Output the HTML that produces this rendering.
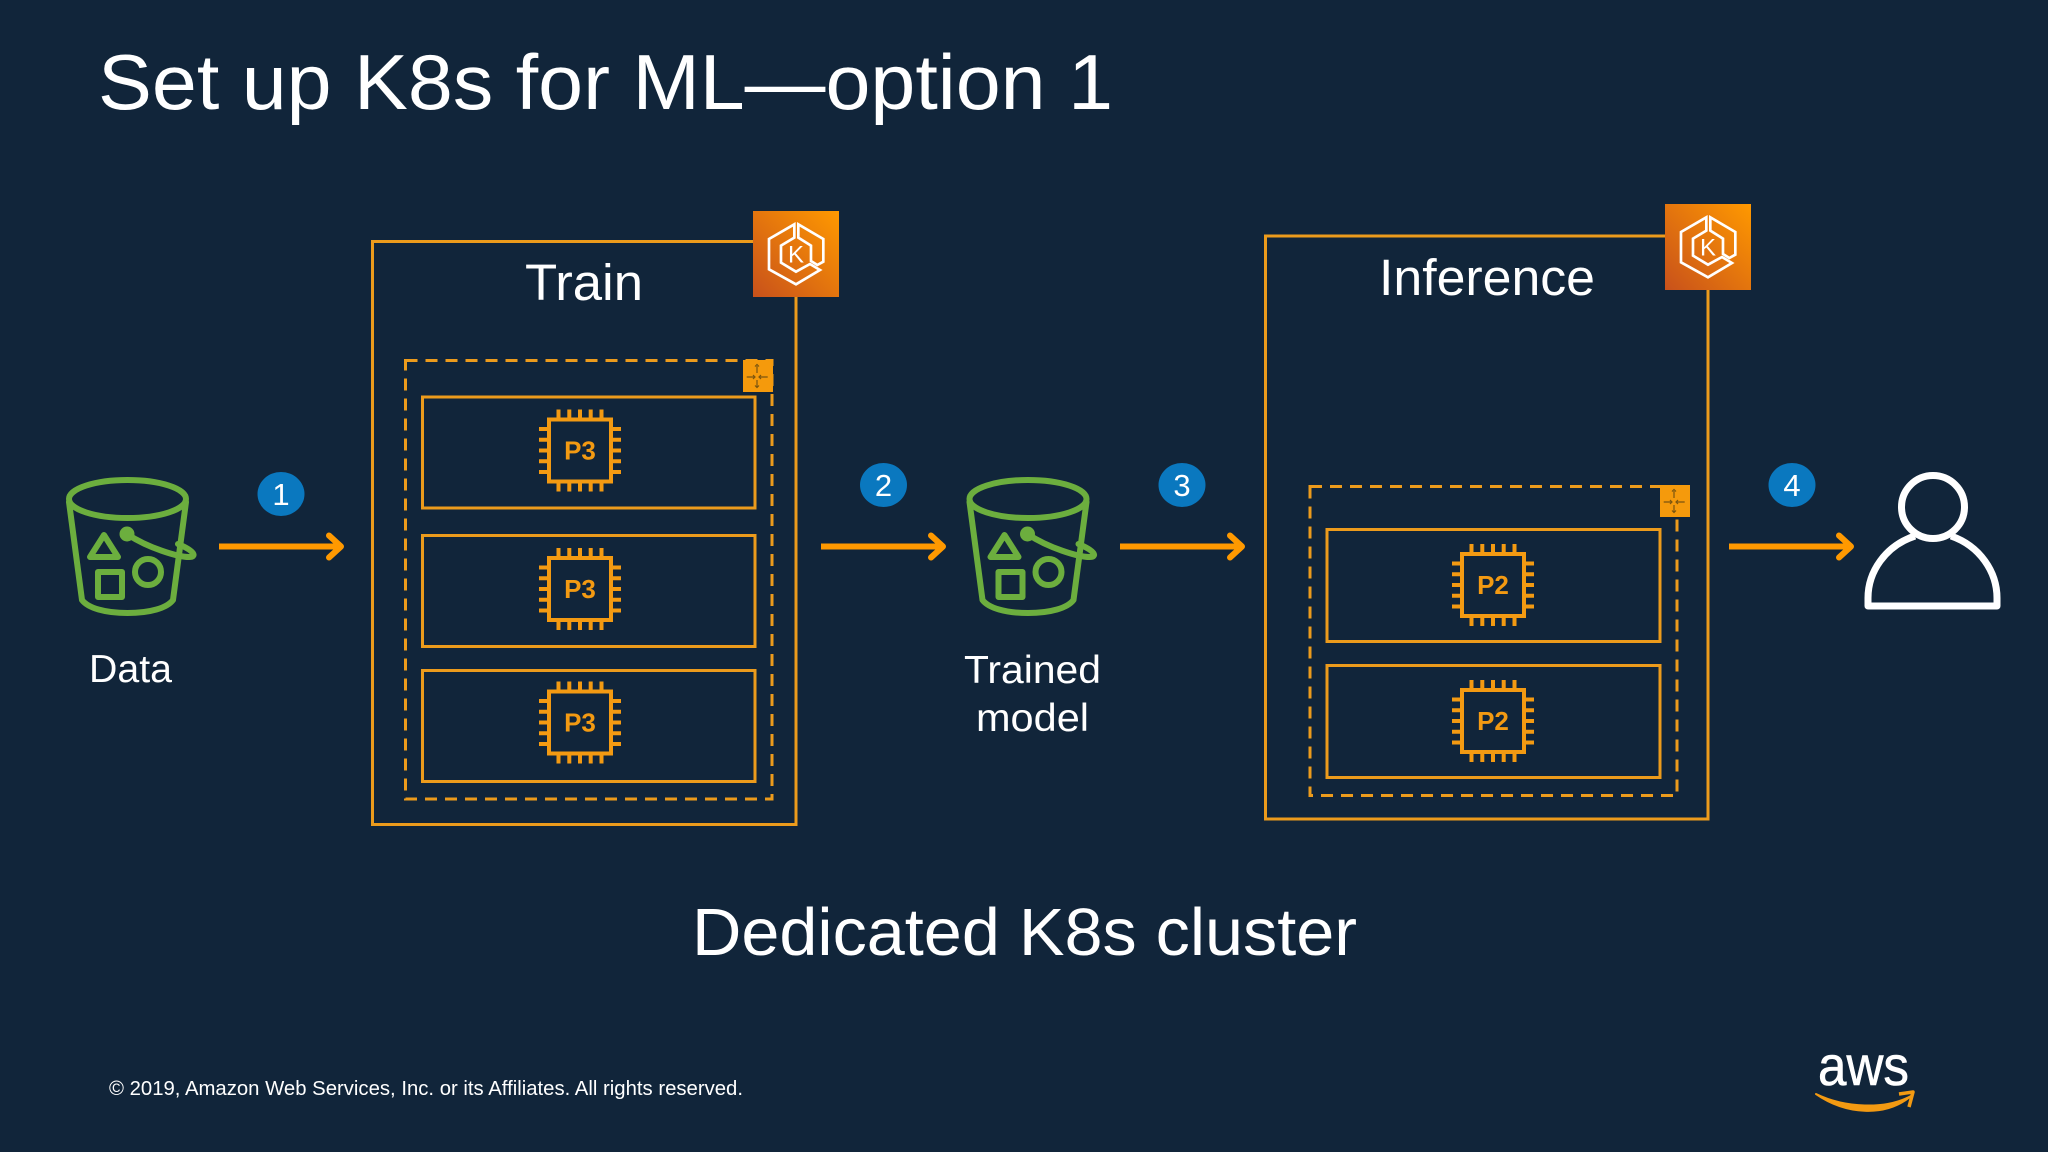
<!DOCTYPE html>
<html><head><meta charset="utf-8"><title>Set up K8s for ML</title>
<style>
html,body{margin:0;padding:0;background:#11253a;width:2048px;height:1152px;overflow:hidden}
svg{display:block}
text{font-family:"Liberation Sans",sans-serif;fill:#fff}
</style></head><body>
<svg width="2048" height="1152" viewBox="0 0 2048 1152" xmlns="http://www.w3.org/2000/svg">
<defs>
<linearGradient id="kg" x1="0" y1="1" x2="1" y2="0"><stop offset="0" stop-color="#c8511b"/><stop offset="1" stop-color="#ff9900"/></linearGradient>
<g id="chip" fill="none" stroke="#f39a12" stroke-width="4">
<rect x="-31" y="-31" width="62" height="62"/>
<path d="M-21.500-32v-9M-10.700-32v-9M0-32v-9M10.700-32v-9M21.500-32v-9M-21.500 32v9M-10.700 32v9M0 32v9M10.700 32v9M21.500 32v9M-32-21.500h-9M-32-10.700h-9M-32 0h-9M-32 10.700h-9M-32 21.500h-9M32-21.500h9M32-10.700h9M32 0h9M32 10.700h9M32 21.500h9"/>
</g>
<g id="bucket" fill="none" stroke="#6cae3e" stroke-width="6" stroke-linejoin="round" stroke-linecap="round">
<ellipse cx="127.500" cy="499" rx="58.500" ry="19"/>
<path d="M69 502L82 600C88 608 105 613 127.500 613C150 613 167 608 173 600L186 502"/>
<path d="M104 535L90 557H118Z"/>
<rect x="98" y="572" width="24" height="25"/>
<circle cx="148" cy="572" r="13"/>
<path d="M127 534C148 548 178 557 189 557C197 557 195 551 178 544"/>
<circle cx="127" cy="534" r="4.500" fill="#6cae3e"/>
</g>
<g id="arrow" fill="none" stroke="#ff9900" stroke-width="6" stroke-linecap="round" stroke-linejoin="round">
<path d="M0 0H122" stroke-linecap="butt"/>
<path d="M110-11L122 0L110 11"/>
</g>
<g id="kbadge">
<rect x="753" y="211" width="86" height="86" fill="url(#kg)"/>
<g transform="translate(700 190) scale(.3333)" fill="none" stroke="#fff" stroke-width="8" stroke-linejoin="miter">
<path d="M283 103L207 147V238L288 283L360 240L330 222L288 245L243 218V167L283 143Z"/>
<path d="M295 103V143L333 167V213L352 225L370 215V147Z"/>
</g>
<text x="796" y="262.500" font-size="24" text-anchor="middle" style="fill:#fff">K</text>
</g>
<g id="sbadge">
<rect x="0" y="0" width="30" height="32" fill="#f59a0c"/>
<path d="M3.700 17H12M16 17H24.700M14 6V13M14 20V27M12 6.500L14 4.500L16 6.500M12 25.500L14 27.500L16 25.500M10 15L12 17L10 19M18 15L16 17L18 19" stroke="#7a5510" stroke-width="1.200" fill="none"/>
</g>
</defs>
<rect width="2048" height="1152" fill="#11253a"/>

<text x="98" y="109" font-size="78" textLength="1015" lengthAdjust="spacingAndGlyphs">Set up K8s for ML—option 1</text>

<!-- data bucket -->
<use href="#bucket"/>
<text x="89" y="682" font-size="39" textLength="83" lengthAdjust="spacingAndGlyphs">Data</text>

<!-- arrows -->
<use href="#arrow" x="219" y="546.500"/>
<use href="#arrow" x="821" y="546.500"/>
<use href="#arrow" x="1120" y="546.500"/>
<use href="#arrow" x="1729" y="546.500"/>

<!-- step circles -->
<g fill="#0a78bf">
<ellipse cx="281" cy="494" rx="23.500" ry="22"/>
<ellipse cx="883.500" cy="485" rx="23.500" ry="22"/>
<ellipse cx="1182" cy="485" rx="23.500" ry="22"/>
<ellipse cx="1792" cy="485" rx="23.500" ry="22"/>
</g>
<g font-size="31" text-anchor="middle">
<text x="281" y="505">1</text>
<text x="883.500" y="496">2</text>
<text x="1182" y="496">3</text>
<text x="1792" y="496">4</text>
</g>

<!-- Train -->
<g fill="none" stroke="#ec9b1c" stroke-width="3">
<rect x="372.500" y="241.500" width="423.500" height="583"/>
<rect x="405.500" y="360.500" width="366.500" height="438.500" stroke-dasharray="12 8"/>
<rect x="422.500" y="397" width="332.500" height="111"/>
<rect x="422.500" y="535.500" width="332.500" height="111"/>
<rect x="422.500" y="670.500" width="332.500" height="111"/>
</g>
<use href="#kbadge"/>
<use href="#sbadge" x="743" y="360"/>
<text x="525" y="300" font-size="51" textLength="118" lengthAdjust="spacingAndGlyphs">Train</text>
<use href="#chip" x="580" y="450.500"/>
<use href="#chip" x="580" y="589"/>
<use href="#chip" x="580" y="722.500"/>
<text x="580" y="459.500" font-size="26" font-weight="bold" text-anchor="middle" style="fill:#f39a12">P3</text>
<text x="580" y="598" font-size="26" font-weight="bold" text-anchor="middle" style="fill:#f39a12">P3</text>
<text x="580" y="731.500" font-size="26" font-weight="bold" text-anchor="middle" style="fill:#f39a12">P3</text>

<!-- model bucket -->
<use href="#bucket" x="900.500"/>
<text x="964" y="683" font-size="39" textLength="137" lengthAdjust="spacingAndGlyphs">Trained</text>
<text x="976" y="731" font-size="39" textLength="113" lengthAdjust="spacingAndGlyphs">model</text>

<!-- Inference -->
<g fill="none" stroke="#ec9b1c" stroke-width="3">
<rect x="1265.500" y="236" width="442.500" height="583"/>
<rect x="1310" y="486.500" width="367" height="309" stroke-dasharray="12 8"/>
<rect x="1327" y="529.500" width="333" height="112"/>
<rect x="1327" y="665.500" width="333" height="112"/>
</g>
<use href="#kbadge" x="912" y="-7"/>
<use href="#sbadge" x="1660" y="485"/>
<text x="1379" y="295" font-size="51" textLength="216" lengthAdjust="spacingAndGlyphs">Inference</text>
<use href="#chip" x="1493" y="585"/>
<use href="#chip" x="1493" y="721"/>
<text x="1493" y="594" font-size="26" font-weight="bold" text-anchor="middle" style="fill:#f39a12">P2</text>
<text x="1493" y="730" font-size="26" font-weight="bold" text-anchor="middle" style="fill:#f39a12">P2</text>

<!-- user -->
<g fill="none" stroke="#fff" stroke-width="7" stroke-linejoin="round">
<circle cx="1933" cy="507" r="31.500"/>
<path d="M1915 536C1885 546 1868 572 1868 598V606H1997V598C1997 572 1980 546 1951 536"/>
</g>

<text x="692" y="955" font-size="67" textLength="665" lengthAdjust="spacingAndGlyphs">Dedicated K8s cluster</text>
<text x="109" y="1095" font-size="20.500" textLength="634" lengthAdjust="spacingAndGlyphs">© 2019, Amazon Web Services, Inc. or its Affiliates. All rights reserved.</text>

<!-- aws -->
<text x="1818" y="1085" font-size="56" textLength="91" lengthAdjust="spacingAndGlyphs" stroke="#fff" stroke-width=".6">aws</text>
<path d="M1816 1094C1845 1114 1885 1118 1911 1096C1885 1110 1845 1108 1816 1094Z" fill="#f39a12" stroke="#f39a12" stroke-width="2" stroke-linejoin="round"/>
<path d="M1899 1094L1913 1092L1909 1107" fill="none" stroke="#f39a12" stroke-width="3.500" stroke-linejoin="round"/>
</svg>
</body></html>
